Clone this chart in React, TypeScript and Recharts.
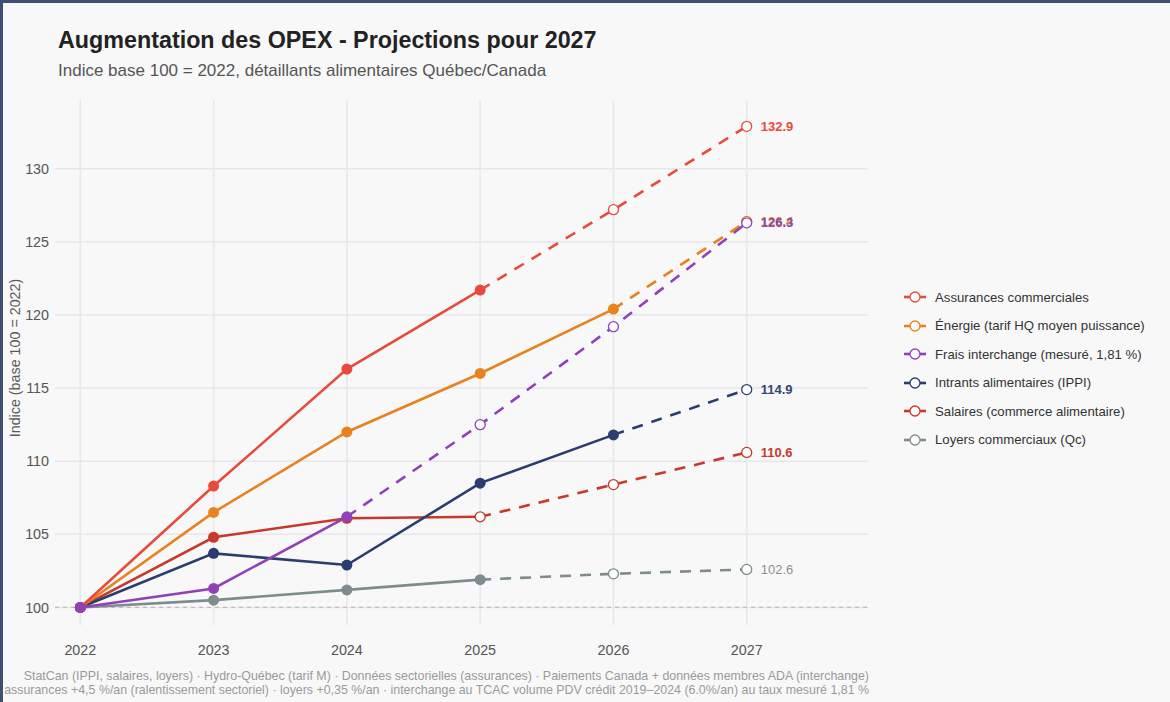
import { LineChart, Line, XAxis, YAxis, CartesianGrid, ReferenceLine } from 'recharts'

const years = [2022, 2023, 2024, 2025, 2026, 2027]
const yTicks = [100, 105, 110, 115, 120, 125, 130]

// values per series (index base 100 = 2022)
const assurances = [100, 108.3, 116.3, 121.7, 127.2, 132.9]
const energie = [100, 106.5, 112.0, 116.0, 120.4, 126.4]
const frais = [100, 101.3, 106.2, 112.5, 119.2, 126.3]
const intrants = [100, 103.7, 102.9, 108.5, 111.8, 114.9]
const salaires = [100, 104.8, 106.1, 106.2, 108.4, 110.6]
const loyers = [100, 100.5, 101.2, 101.9, 102.3, 102.6]

const endLabels = ['132.9', '126.4', '126.3', '114.9', '110.6', '102.6']

// junction = last index of the solid part, openFrom = first hollow marker
const series = [
  { key: 'loy', name: 'Loyers commerciaux (Qc)', values: loyers, color: '#7f8c8d', junction: 3, openFrom: 4, label: endLabels[5], bold: false, labelColor: '#8a9293' },
  { key: 'sal', name: 'Salaires (commerce alimentaire)', values: salaires, color: '#c8392b', junction: 3, openFrom: 3, label: endLabels[4], bold: true, labelColor: '#c8392b' },
  { key: 'int', name: 'Intrants alimentaires (IPPI)', values: intrants, color: '#2b3d6e', junction: 4, openFrom: 5, label: endLabels[3], bold: true, labelColor: '#34466f' },
  { key: 'ene', name: 'Énergie (tarif HQ moyen puissance)', values: energie, color: '#e8821f', junction: 4, openFrom: 5, label: endLabels[1], bold: true, labelColor: '#d9852f' },
  { key: 'ass', name: 'Assurances commerciales', values: assurances, color: '#e84a3c', junction: 3, openFrom: 4, label: endLabels[0], bold: true, labelColor: '#e84a3c' },
  { key: 'fra', name: 'Frais interchange (mesuré, 1,81 %)', values: frais, color: '#9040b8', junction: 2, openFrom: 3, label: endLabels[2], bold: true, labelColor: '#8a48b0' },
]

const legendOrder = ['ass', 'ene', 'fra', 'int', 'sal', 'loy']

const data = years.map((year, i) => {
  const row: Record<string, number | undefined> = { year }
  series.forEach(s => {
    row[s.key + '_a'] = i <= s.junction ? s.values[i] : undefined
    row[s.key + '_p'] = i >= s.junction ? s.values[i] : undefined
  })
  return row
})

const BG = '#f8f8f9'

export default function App() {
  return (
    <div style={{ position: 'absolute', left: 0, top: 0, width: 1170, height: 702, background: BG, fontFamily: '"Liberation Sans", Arial, sans-serif', overflow: 'hidden' }}>
      <div style={{ position: 'absolute', left: 0, top: 0, width: 1170, height: 3, background: '#3c5173' }} />
      <div style={{ position: 'absolute', left: 0, top: 0, width: 3, height: 702, background: '#3c5173' }} />

      <div style={{ position: 'absolute', left: 58, top: 27, fontSize: 23.3, fontWeight: 'bold', color: '#222' }}>
        Augmentation des OPEX - Projections pour 2027
      </div>
      <div style={{ position: 'absolute', left: 58, top: 61, fontSize: 17, color: '#555' }}>
        Indice base 100 = 2022, détaillants alimentaires Québec/Canada
      </div>

      <div style={{ position: 'absolute', left: 15, top: 358, transform: 'translate(-50%, -50%) rotate(-90deg)', fontSize: 14.3, color: '#5a5a5a', whiteSpace: 'nowrap' }}>
        Indice (base 100 = 2022)
      </div>

      <div style={{ position: 'absolute', left: 0, top: 0 }}>
        <LineChart width={1170} height={702} data={data} margin={{ top: 100, right: 302, bottom: 47, left: 0 }}>
          <CartesianGrid stroke="#e6e6ec" strokeWidth={1.5} syncWithTicks />
          <XAxis dataKey="year" type="number" domain={[2021.81, 2027.91]} ticks={years} axisLine={false} tickLine={false} tickMargin={14} height={30} tick={{ fontSize: 14.3, fill: '#555' }} />
          <YAxis type="number" domain={[98.8, 134.7]} ticks={yTicks} axisLine={false} tickLine={false} tickSize={4} width={55} tick={{ fontSize: 14.3, fill: '#555' }} />
          <ReferenceLine y={100} stroke="#bdbdbd" strokeDasharray="4 4" strokeWidth={1.2} />
          {series.map(s => (
            <Line
              key={s.key + '_a'}
              dataKey={s.key + '_a'}
              stroke={s.color}
              strokeWidth={2.6}
              isAnimationActive={false}
              connectNulls={false}
              dot={(p: any) => {
                if (p.value == null || p.cy == null) return <g key={p.key} />
                if (p.index >= s.openFrom) return <circle key={p.key} cx={p.cx} cy={p.cy} r={5} fill="#fff" stroke={s.color} strokeWidth={1.3} />
                return <circle key={p.key} cx={p.cx} cy={p.cy} r={5.5} fill={s.color} stroke="none" />
              }}
              activeDot={false}
            />
          ))}
          {series.map(s => (
            <Line
              key={s.key + '_p'}
              dataKey={s.key + '_p'}
              stroke={s.color}
              strokeWidth={2.6}
              strokeDasharray="11 9"
              isAnimationActive={false}
              dot={(p: any) => {
                if (p.value == null || p.cy == null || p.index <= s.junction) return <g key={p.key} />
                return (
                  <g key={p.key}>
                    <circle cx={p.cx} cy={p.cy} r={5} fill="#fff" stroke={s.color} strokeWidth={1.3} />
                    {p.index === years.length - 1 && (
                      <text x={p.cx + 14} y={p.cy} dy={4.5} fontSize={13} fontWeight={s.bold ? 'bold' : 'normal'} fill={s.labelColor}>
                        {s.label}
                      </text>
                    )}
                  </g>
                )
              }}
              activeDot={false}
            />
          ))}
        </LineChart>
      </div>

      <div style={{ position: 'absolute', left: 902, top: 283 }}>
        {legendOrder.map(k => {
          const s = series.find(x => x.key === k)!
          return (
            <div key={k} style={{ display: 'flex', alignItems: 'center', height: 28.5 }}>
              <svg width={26} height={14} style={{ marginRight: 7 }}>
                <line x1={2} y1={7} x2={24} y2={7} stroke={s.color} strokeWidth={2.6} />
                <circle cx={13} cy={7} r={5} fill="#fff" stroke={s.color} strokeWidth={1.3} />
              </svg>
              <span style={{ fontSize: 13.2, color: '#333' }}>{s.name}</span>
            </div>
          )
        })}
      </div>

      <div style={{ position: 'absolute', right: 1170 - 869, top: 670, fontSize: 12.4, color: '#9a9a9a', textAlign: 'right', whiteSpace: 'nowrap', lineHeight: '13.5px' }}>
        <div>StatCan (IPPI, salaires, loyers) · Hydro-Québec (tarif M) · Données sectorielles (assurances) · Paiements Canada + données membres ADA (interchange)</div>
        <div>assurances +4,5 %/an (ralentissement sectoriel) · loyers +0,35 %/an · interchange au TCAC volume PDV crédit 2019–2024 (6.0%/an) au taux mesuré 1,81 %</div>
      </div>
    </div>
  )
}
